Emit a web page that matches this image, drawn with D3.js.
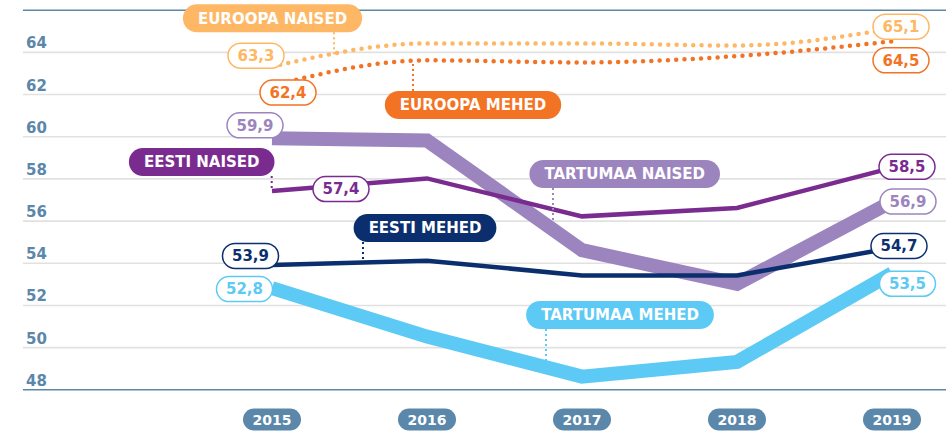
<!DOCTYPE html>
<html>
<head>
<meta charset="utf-8">
<script src="https://cdn.jsdelivr.net/npm/d3@7"></script>
<style>
  body { margin: 0; background: #fff; }
  svg { display: block; font-family: "DejaVu Sans", sans-serif; font-weight: bold; }
</style>
</head>
<body>
<svg width="946" height="431"></svg>
<script>
// DATA
const years = [2015, 2016, 2017, 2018, 2019];
const euroopaNaised = [63.3, 64.4, 64.4, 64.3, 65.1];
const euroopaMehed = [62.4, 63.6, 63.5, 63.8, 64.5];
const eestiNaised = [57.4, 58.0, 56.2, 56.6, 58.5];
const eestiMehed = [53.9, 54.1, 53.4, 53.4, 54.7];
const tartumaaNaised = [59.9, 59.8, 54.6, 53.0, 56.9];
const tartumaaMehed = [52.8, 50.5, 48.6, 49.3, 53.5];
const yTicks = [48, 50, 52, 54, 56, 58, 60, 62, 64, 66];

const svg = d3.select("svg");
const width = +svg.attr("width");
const axisBlue = "#5b87aa";

// SCALES
const x = d3.scalePoint().domain(years).range([272, 892]);
const y = d3.scaleLinear().domain([48, 66]).range([389.3, 9.7]);

// series styles (drawing order: thick first, dotted last)
const series = [
  { key: "tm", name: "TARTUMAA MEHED", values: tartumaaMehed, color: "#5ccaf5", w: 14, dotted: false },
  { key: "tn", name: "TARTUMAA NAISED", values: tartumaaNaised, color: "#9c85bf", w: 14, dotted: false },
  { key: "em", name: "EESTI MEHED", values: eestiMehed, color: "#0b2f6e", w: 4.5, dotted: false },
  { key: "en", name: "EESTI NAISED", values: eestiNaised, color: "#7a2b8f", w: 4.5, dotted: false },
  { key: "um", name: "EUROOPA MEHED", values: euroopaMehed, color: "#f37324", w: 4.5, dotted: true },
  { key: "un", name: "EUROOPA NAISED", values: euroopaNaised, color: "#fdb765", w: 4.5, dotted: true }
];
const byKey = Object.fromEntries(series.map(s => [s.key, s]));

// GRID + Y LABELS
const yAxis = d3.axisLeft(y)
  .tickValues(yTicks)
  .tickSize(-(width - 23))
  .tickFormat(d => (d === 66 ? "" : d));

const gy = svg.append("g").attr("transform", "translate(23,0)").call(yAxis);
gy.select(".domain").remove();
gy.selectAll(".tick line")
  .attr("stroke", d => (d === 48 || d === 66 ? axisBlue : "#e1e1e1"))
  .attr("stroke-width", 1.6);
gy.selectAll(".tick text")
  .attr("x", 3)
  .attr("dy", null)
  .attr("y", -4)
  .attr("text-anchor", "start")
  .attr("fill", axisBlue)
  .attr("font-size", 15)
  .attr("font-family", "DejaVu Sans")
  .attr("font-weight", "bold");

// LINES
const lineLinear = d3.line().x((d, i) => x(years[i])).y(d => y(d));
const lineCurve = d3.line().x((d, i) => x(years[i])).y(d => y(d)).curve(d3.curveMonotoneX);

svg.append("g")
  .selectAll("path")
  .data(series)
  .join("path")
  .attr("d", s => (s.dotted ? lineCurve(s.values) : lineLinear(s.values)))
  .attr("fill", "none")
  .attr("stroke", s => s.color)
  .attr("stroke-width", s => s.w)
  .attr("stroke-linejoin", s => (s.dotted ? "round" : "miter"))
  .attr("stroke-linecap", s => (s.dotted ? "round" : "butt"))
  .attr("stroke-dasharray", s => (s.dotted ? "0 8.3" : null));

// value on a series at pixel x (linear between points)
function yAt(s, px) {
  const xs = years.map(x);
  let i = d3.bisectRight(xs, px) - 1;
  i = Math.max(0, Math.min(xs.length - 2, i));
  const t = (px - xs[i]) / (xs[i + 1] - xs[i]);
  return y(s.values[i] + t * (s.values[i + 1] - s.values[i]));
}

// SERIES NAME PILLS (layout)
const namePills = [
  { key: "un", cx: 272.5, cy: 18.3, lx: 334, above: true },
  { key: "um", cx: 473, cy: 105, lx: 413, above: false },
  { key: "en", cx: 201.7, cy: 162, lx: 271.7, above: true },
  { key: "em", cx: 425, cy: 228, lx: 363, above: true },
  { key: "tn", cx: 624.7, cy: 174, lx: 553, above: true },
  { key: "tm", cx: 620, cy: 315, lx: 546, above: true }
];
const pillH = 28;

// connectors
svg.append("g")
  .selectAll("line")
  .data(namePills)
  .join("line")
  .attr("x1", d => d.lx)
  .attr("x2", d => d.lx)
  .attr("y1", d => (d.above ? d.cy + pillH / 2 : d.cy - pillH / 2))
  .attr("y2", d => {
    const s = byKey[d.key];
    const ly = yAt(s, d.lx);
    return d.above ? ly - s.w / 2 + 1 : ly + s.w / 2 - 1;
  })
  .attr("stroke", d => byKey[d.key].color)
  .attr("stroke-width", 2)
  .attr("stroke-dasharray", "2 3");

// VALUE LABELS (first and last year)
const valueLabels = [
  { key: "un", i: 0, dx: -16, dy: -11 },
  { key: "un", i: 4, dx: 9, dy: -2 },
  { key: "um", i: 0, dx: 16, dy: 7 },
  { key: "um", i: 4, dx: 9, dy: 19 },
  { key: "tn", i: 0, dx: -17, dy: -13 },
  { key: "tn", i: 4, dx: 16, dy: 0 },
  { key: "en", i: 0, dx: 69, dy: -2 },
  { key: "en", i: 4, dx: 15, dy: -1 },
  { key: "em", i: 0, dx: -21.5, dy: -9 },
  { key: "em", i: 4, dx: 7, dy: -2 },
  { key: "tm", i: 0, dx: -27.5, dy: 1 },
  { key: "tm", i: 4, dx: 15.5, dy: 10.5 }
];
const fmt = v => d3.format(".1f")(v).replace(".", ",");

const vl = svg.append("g")
  .selectAll("g")
  .data(valueLabels)
  .join("g")
  .attr("transform", d => {
    const s = byKey[d.key];
    return `translate(${x(years[d.i]) + d.dx},${y(s.values[d.i]) + d.dy})`;
  });

vl.append("rect")
  .attr("x", -28)
  .attr("y", -12.5)
  .attr("width", 56)
  .attr("height", 25)
  .attr("rx", 12.5)
  .attr("fill", "#fff")
  .attr("stroke", d => byKey[d.key].color)
  .attr("stroke-width", 1.5);

vl.append("text")
  .attr("text-anchor", "middle")
  .attr("dy", "0.36em")
  .attr("font-size", 15)
  .attr("fill", d => byKey[d.key].color)
  .text(d => fmt(byKey[d.key].values[d.i]));

// name pills on top
const np = svg.append("g")
  .selectAll("g")
  .data(namePills)
  .join("g")
  .attr("transform", d => `translate(${d.cx},${d.cy})`);

const npRect = np.append("rect")
  .attr("fill", d => byKey[d.key].color);

const npText = np.append("text")
  .attr("text-anchor", "middle")
  .attr("dy", "0.36em")
  .attr("font-size", 15)
  .attr("fill", "#fff")
  .text(d => byKey[d.key].name);

npText.each(function (d) {
  d.tw = this.getComputedTextLength();
});
npRect
  .attr("x", d => -(d.tw / 2 + 15))
  .attr("y", -pillH / 2)
  .attr("width", d => d.tw + 30)
  .attr("height", pillH)
  .attr("rx", pillH / 2);

// YEAR PILLS
const yp = svg.append("g")
  .selectAll("g")
  .data(years)
  .join("g")
  .attr("transform", d => `translate(${x(d)},419.5)`);

yp.append("rect")
  .attr("x", -29)
  .attr("y", -11)
  .attr("width", 58)
  .attr("height", 22)
  .attr("rx", 11)
  .attr("fill", axisBlue);

yp.append("text")
  .attr("text-anchor", "middle")
  .attr("dy", "0.36em")
  .attr("font-size", 14)
  .attr("fill", "#fff")
  .text(d => d);
</script>
</body>
</html>
